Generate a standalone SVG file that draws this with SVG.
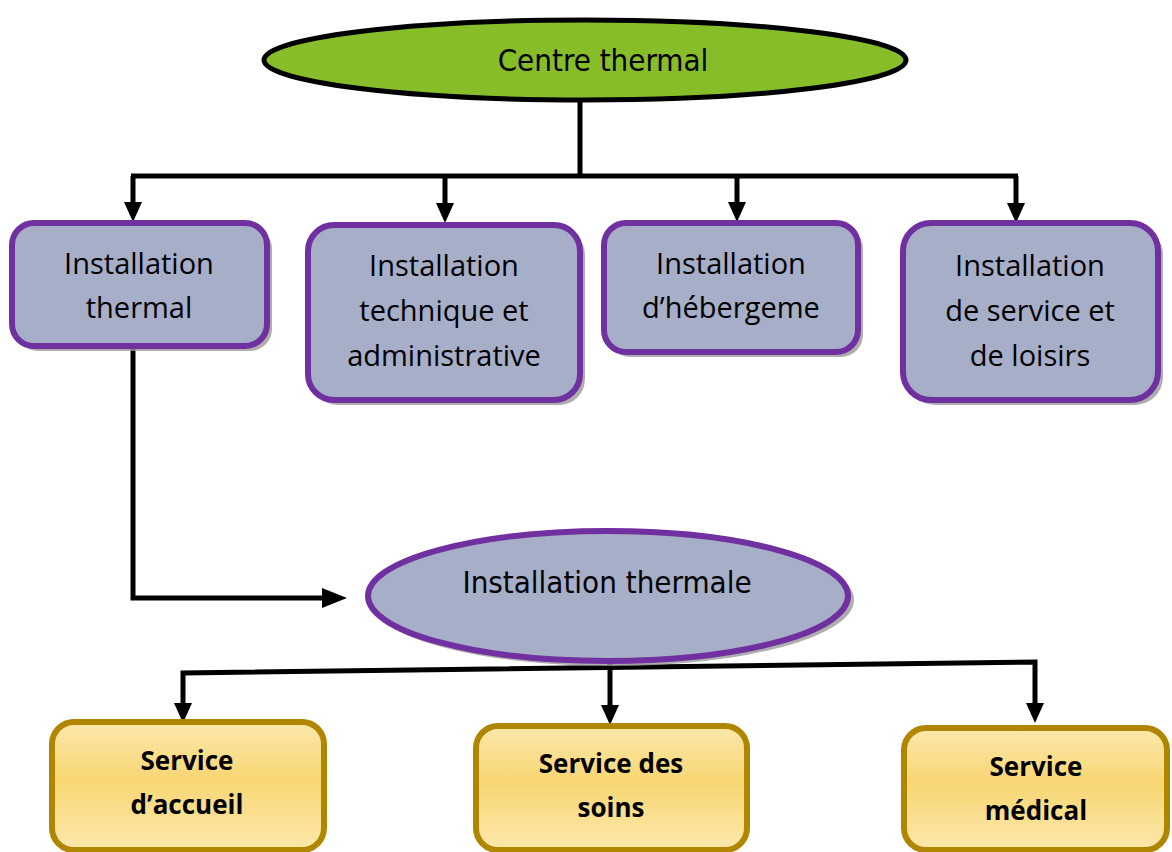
<svg xmlns="http://www.w3.org/2000/svg" width="1172" height="852" viewBox="0 0 1172 852">
<defs>
<linearGradient id="gold" x1="0" y1="0" x2="0" y2="1">
<stop offset="0" stop-color="#fce8ac"/>
<stop offset="0.45" stop-color="#f8d673"/>
<stop offset="1" stop-color="#fce8ac"/>
</linearGradient>
<path id="hd" d="M-9,-20 L9,-20 L0,0 Z" fill="#000"/>
<style>
.pb{fill:#a6aec8;stroke:#7030a0;stroke-width:6}
.sh{fill:#9a9a9a;opacity:0.8}
.gb{fill:url(#gold);stroke:#b08600;stroke-width:6}
.c{fill:none;stroke:#000;stroke-width:5}
.t{font-family:"Open Sans","DejaVu Sans",sans-serif;font-size:29px;fill:#000;text-anchor:middle}
.tc{font-family:"DejaVu Sans Condensed","DejaVu Sans",sans-serif;font-size:31px;fill:#000;text-anchor:middle}
.tb{font-family:"Open Sans","DejaVu Sans",sans-serif;font-size:26px;font-weight:bold;fill:#000;text-anchor:middle}
</style>
</defs>
<rect width="1172" height="852" fill="#fff"/>
<g id="connectors">
<polyline class="c" points="580,100 580,176"/>
<polyline class="c" points="131,176 1018,176"/>
<line class="c" x1="133" y1="176" x2="133" y2="204"/>
<use href="#hd" x="133" y="222"/>
<line class="c" x1="445" y1="176" x2="445" y2="205"/>
<use href="#hd" x="445" y="223"/>
<line class="c" x1="737" y1="176" x2="737" y2="204"/>
<use href="#hd" x="737" y="222"/>
<line class="c" x1="1016" y1="176" x2="1016" y2="205"/>
<use href="#hd" x="1016" y="223"/>
<polyline class="c" points="133,347 133,598 324,598"/>
<path d="M322,588 L347,598 L322,608 Z" fill="#000"/>
<polyline class="c" points="183,704 183,673 1035,662 1035,704"/>
<use href="#hd" x="183" y="723"/>
<line class="c" x1="610" y1="664" x2="610" y2="706"/>
<use href="#hd" x="610" y="725"/>
<use href="#hd" x="1035" y="723"/>
</g>
<g id="centre-thermal">
<ellipse cx="585" cy="60" rx="321" ry="40" fill="#86bd28" stroke="#000" stroke-width="5"/>
<text class="tc" x="603" y="71">Centre thermal</text>
</g>
<g id="installation-thermal">
<rect class="sh" x="16" y="227" width="256" height="124" rx="22"/>
<rect class="pb" x="12" y="223" width="255" height="123" rx="22"/>
<text class="t" x="139" y="274">Installation</text>
<text class="t" x="139" y="318">thermal</text>
</g>
<g id="installation-technique">
<rect class="sh" x="312" y="229" width="273" height="176" rx="26"/>
<rect class="pb" x="308" y="225" width="272" height="175" rx="26"/>
<text class="t" x="444" y="276">Installation</text>
<text class="t" x="444" y="321">technique et</text>
<text class="t" x="444" y="366">administrative</text>
</g>
<g id="installation-hebergement">
<rect class="sh" x="608" y="227" width="255" height="130" rx="22"/>
<rect class="pb" x="604" y="223" width="254" height="129" rx="22"/>
<text class="t" x="731" y="274">Installation</text>
<text class="t" x="731" y="318">d’hébergeme</text>
</g>
<g id="installation-service">
<rect class="sh" x="907" y="227" width="256" height="178" rx="28"/>
<rect class="pb" x="903" y="223" width="255" height="177" rx="28"/>
<text class="t" x="1030" y="276">Installation</text>
<text class="t" x="1030" y="321">de service et</text>
<text class="t" x="1030" y="366">de loisirs</text>
</g>
<g id="installation-thermale">
<ellipse cx="612" cy="600" rx="242" ry="66" fill="#9a9a9a" opacity="0.8"/>
<ellipse cx="608" cy="596" rx="240" ry="65" fill="#a6aec8" stroke="#7030a0" stroke-width="6"/>
<text class="tc" x="607" y="593">Installation thermale</text>
</g>
<g id="service-accueil">
<rect class="gb" x="52" y="722" width="272" height="128" rx="22"/>
<text class="tb" x="187" y="770">Service</text>
<text class="tb" x="187" y="814">d’accueil</text>
</g>
<g id="service-soins">
<rect class="gb" x="476" y="726" width="271" height="124" rx="22"/>
<text class="tb" x="611" y="773">Service des</text>
<text class="tb" x="611" y="817">soins</text>
</g>
<g id="service-medical">
<rect class="gb" x="904" y="728" width="263" height="122" rx="22"/>
<text class="tb" x="1036" y="776">Service</text>
<text class="tb" x="1036" y="820">médical</text>
</g>
</svg>
